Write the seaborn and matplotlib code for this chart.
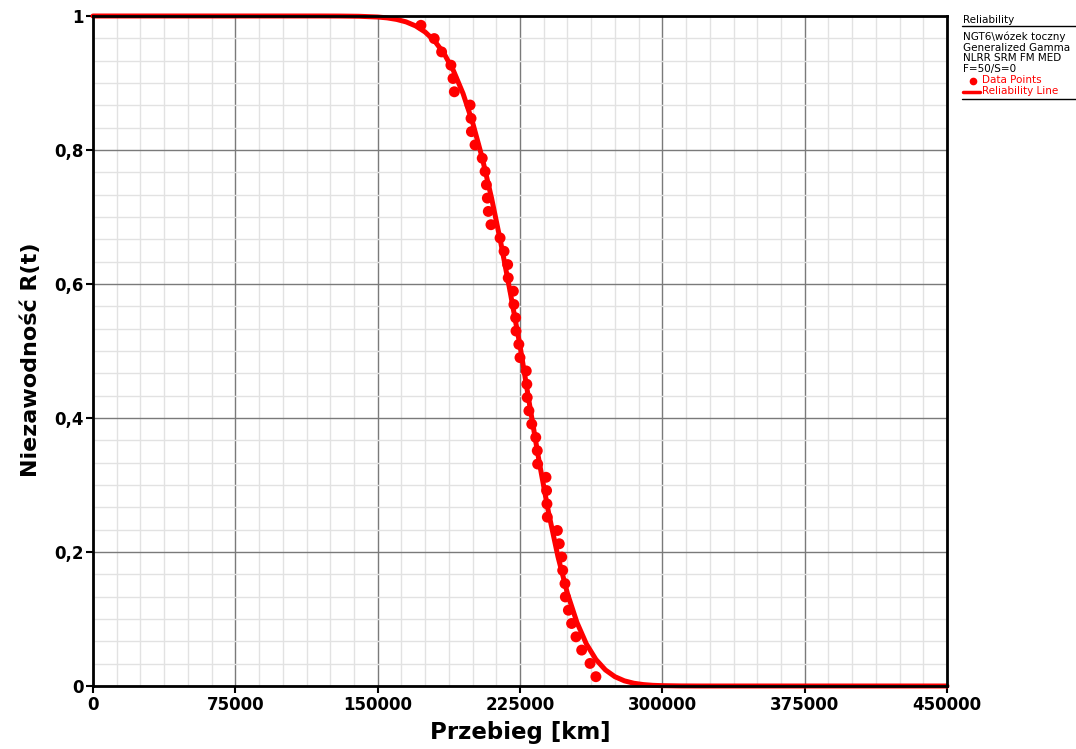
import matplotlib
matplotlib.use("Agg")
import matplotlib.pyplot as plt
from matplotlib.lines import Line2D
from matplotlib.ticker import MultipleLocator, FixedLocator
import seaborn as sns
import pandas as pd

# Failure data: mileage [km] and median-rank reliability
points_km = [172800, 179800, 183700, 188600, 189700, 190400, 198700, 199200, 199400, 201300,
             205100, 206600, 207300, 207800, 208300, 209700, 214500, 216600, 218500, 218800,
             221500, 221800, 222700, 222900, 224400, 225000, 228300, 228600, 228800, 229700,
             231200, 233300, 234100, 234300, 238700, 239000, 239200, 239400, 244700, 245700,
             247000, 247500, 248700, 248900, 250500, 252200, 254500, 257500, 261900, 265000]
points_r = [0.9861, 0.9663, 0.9464, 0.9266, 0.9067, 0.8869, 0.8671, 0.8472, 0.8274, 0.8075,
            0.7877, 0.7679, 0.7480, 0.7282, 0.7083, 0.6885, 0.6687, 0.6488, 0.6290, 0.6091,
            0.5893, 0.5694, 0.5496, 0.5298, 0.5099, 0.4901, 0.4702, 0.4504, 0.4306, 0.4107,
            0.3909, 0.3710, 0.3512, 0.3313, 0.3115, 0.2917, 0.2718, 0.2520, 0.2321, 0.2123,
            0.1925, 0.1726, 0.1528, 0.1329, 0.1131, 0.0933, 0.0734, 0.0536, 0.0337, 0.0139]

# Fitted reliability line (Generalized Gamma)
line_km = [0, 120000, 130000, 140000, 150000, 155000, 160000, 165000, 170000, 175000,
           180000, 185000, 190000, 195000, 200000, 205000, 210000, 215000, 220000, 225000,
           230000, 235000, 240000, 245000, 250000, 255000, 260000, 265000, 270000, 275000,
           280000, 285000, 290000, 295000, 300000, 310000, 320000, 450000]
line_r = [1.0, 1.0, 0.9999, 0.9996, 0.9985, 0.9972, 0.9949, 0.9912, 0.9852, 0.9761,
          0.9628, 0.9439, 0.9180, 0.8842, 0.8413, 0.7893, 0.7284, 0.6598, 0.5855, 0.5078,
          0.4207, 0.3364, 0.2596, 0.1931, 0.1381, 0.0949, 0.0626, 0.0396, 0.0240, 0.0139,
          0.0077, 0.0041, 0.0021, 0.0010, 0.0005, 0.0001, 0.0, 0.0]

x_ticks = [0, 75000, 150000, 225000, 300000, 375000, 450000]
y_ticks = [0, 0.2, 0.4, 0.6, 0.8, 1.0]
y_tick_labels = ["0", "0,2", "0,4", "0,6", "0,8", "1"]

legend_title = "Reliability"
legend_info = ["NGT6\\wózek toczny", "Generalized Gamma", "NLRR SRM FM MED", "F=50/S=0"]
legend_points = "Data Points"
legend_line = "Reliability Line"

sns.set_theme(style="white")
plt.rcParams["font.family"] = ["DejaVu Sans"]
plt.rcParams["text.color"] = "black"
plt.rcParams["axes.labelcolor"] = "black"
plt.rcParams["xtick.color"] = "black"
plt.rcParams["ytick.color"] = "black"

fig = plt.figure(figsize=(10.76, 7.49), dpi=100)
ax = fig.add_axes([93 / 1076, 1 - 686 / 749, (947 - 93) / 1076, (686 - 16) / 749])

df_pts = pd.DataFrame({"km": points_km, "R": points_r})
df_line = pd.DataFrame({"km": line_km, "R": line_r})

sns.lineplot(data=df_line, x="km", y="R", color="#ff0000", linewidth=3.6,
             sort=False, estimator=None, ax=ax, zorder=3, clip_on=False)
sns.scatterplot(data=df_pts, x="km", y="R", color="#ff0000", s=62, edgecolor="none",
                ax=ax, zorder=4, clip_on=False)

ax.set_xlim(0, 450000)
ax.set_ylim(0, 1)
ax.xaxis.set_major_locator(FixedLocator(x_ticks))
ax.xaxis.set_minor_locator(MultipleLocator(12500))
ax.yaxis.set_major_locator(FixedLocator(y_ticks))
ax.yaxis.set_minor_locator(MultipleLocator(1 / 30))
ax.set_xticklabels([str(v) for v in x_ticks])
ax.set_yticklabels(y_tick_labels)

ax.grid(which="minor", color="#e2e2e2", linewidth=1.0)
ax.grid(which="major", color="#7a7a7a", linewidth=1.0)
ax.set_axisbelow(True)

for side in ["left", "bottom", "top", "right"]:
    ax.spines[side].set_color("black")
    ax.spines[side].set_linewidth(2.0)
    ax.spines[side].set_zorder(5)

ax.tick_params(which="major", direction="out", length=5, width=1.5, color="black",
               labelcolor="black", bottom=True, left=True, labelsize=12, pad=2)
ax.tick_params(which="minor", length=0)
for lbl in ax.get_xticklabels() + ax.get_yticklabels():
    lbl.set_fontweight("bold")

ax.set_xlabel("Przebieg [km]", fontsize=16.5, fontweight="bold", color="black")
ax.set_ylabel("Niezawodność R(t)", fontsize=16, fontweight="bold", color="black")
ax.xaxis.set_label_coords(0.5, -0.052)
ax.yaxis.set_label_coords(-0.061, 0.487)

# Legend panel on the right
W, H = 1076, 749
def fx(px):
    return px / W
def fy(py):
    return 1 - py / H

fig.text(fx(963), fy(20), legend_title, fontsize=7.5, va="center", ha="left", color="black")
fig.lines.append(Line2D([fx(962), fx(1076)], [fy(25.5), fy(25.5)], color="black",
                        linewidth=1.0, transform=fig.transFigure))
for i, t in enumerate(legend_info):
    fig.text(fx(963), fy(37 + i * 10.7), t, fontsize=7.5, va="center", ha="left", color="black")
fig.text(fx(982), fy(80), legend_points, fontsize=7.5, va="center", ha="left", color="#ff0000")
fig.lines.append(Line2D([fx(973)], [fy(80.5)], marker="o", markersize=4.5, color="#ff0000",
                        linestyle="none", transform=fig.transFigure))
fig.text(fx(982), fy(91), legend_line, fontsize=7.5, va="center", ha="left", color="#ff0000")
fig.lines.append(Line2D([fx(963), fx(980)], [fy(91.5), fy(91.5)], color="#ff0000",
                        linewidth=2.5, transform=fig.transFigure))
fig.lines.append(Line2D([fx(962), fx(1076)], [fy(98.5), fy(98.5)], color="black",
                        linewidth=1.0, transform=fig.transFigure))

fig.savefig("out.png", dpi=100, facecolor="white")
